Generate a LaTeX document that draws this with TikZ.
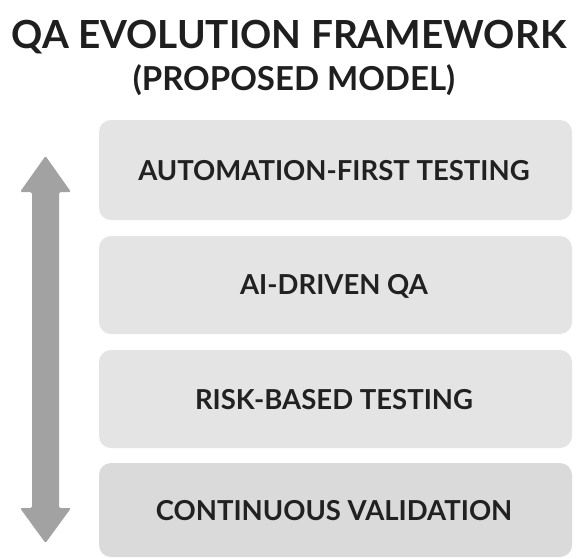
\documentclass[tikz,border=0pt]{standalone}
\usepackage{fontspec}
\setmainfont{Lato}
\begin{document}
\begin{tikzpicture}[x=1pt,y=-1pt,
  stage/.style={fill=#1, rounded corners=12pt},
  stagelabel/.style={text=black!87, font=\fontsize{27.5}{32}\selectfont\bfseries, inner sep=0pt, anchor=center},
  heading/.style={text=black!88, font=\bfseries, inner sep=0pt, anchor=base}]
\definecolor{stagegray}{HTML}{E4E4E4}
\definecolor{stagedark}{HTML}{DADADA}
\definecolor{arrowgray}{HTML}{A2A2A2}
\useasboundingbox[fill=white] (0,0) rectangle (576,558);

% title
\node[heading, font=\fontsize{38.7}{46}\selectfont\bfseries] (title) at (289,48) {QA EVOLUTION FRAMEWORK};
\node[heading, font=\fontsize{33}{38}\selectfont\bfseries] (subtitle) at (294,90) {(PROPOSED MODEL)};

% stages
\fill[stage=stagegray] (99,120) rectangle (572,220);
\fill[stage=stagegray] (99,236) rectangle (572,334);
\fill[stage=stagegray] (99,350) rectangle (572,448);
\fill[stage=stagedark] (99,463) rectangle (572,557);
\node[stagelabel] (s1) at (334,171) {AUTOMATION-FIRST TESTING};
\node[stagelabel] (s2) at (334,286) {AI-DRIVEN QA};
\node[stagelabel] (s3) at (334,400) {RISK-BASED TESTING};
\node[stagelabel] (s4) at (334,511) {CONTINUOUS VALIDATION};

% double-headed progression arrow
\fill[arrowgray, rounded corners=1.5pt]
  (45.5,156) -- (71,192) -- (59,192) -- (59,508) -- (71,508) -- (45.5,543)
  -- (20,508) -- (32,508) -- (32,192) -- (20,192) -- cycle;
\end{tikzpicture}
\end{document}
